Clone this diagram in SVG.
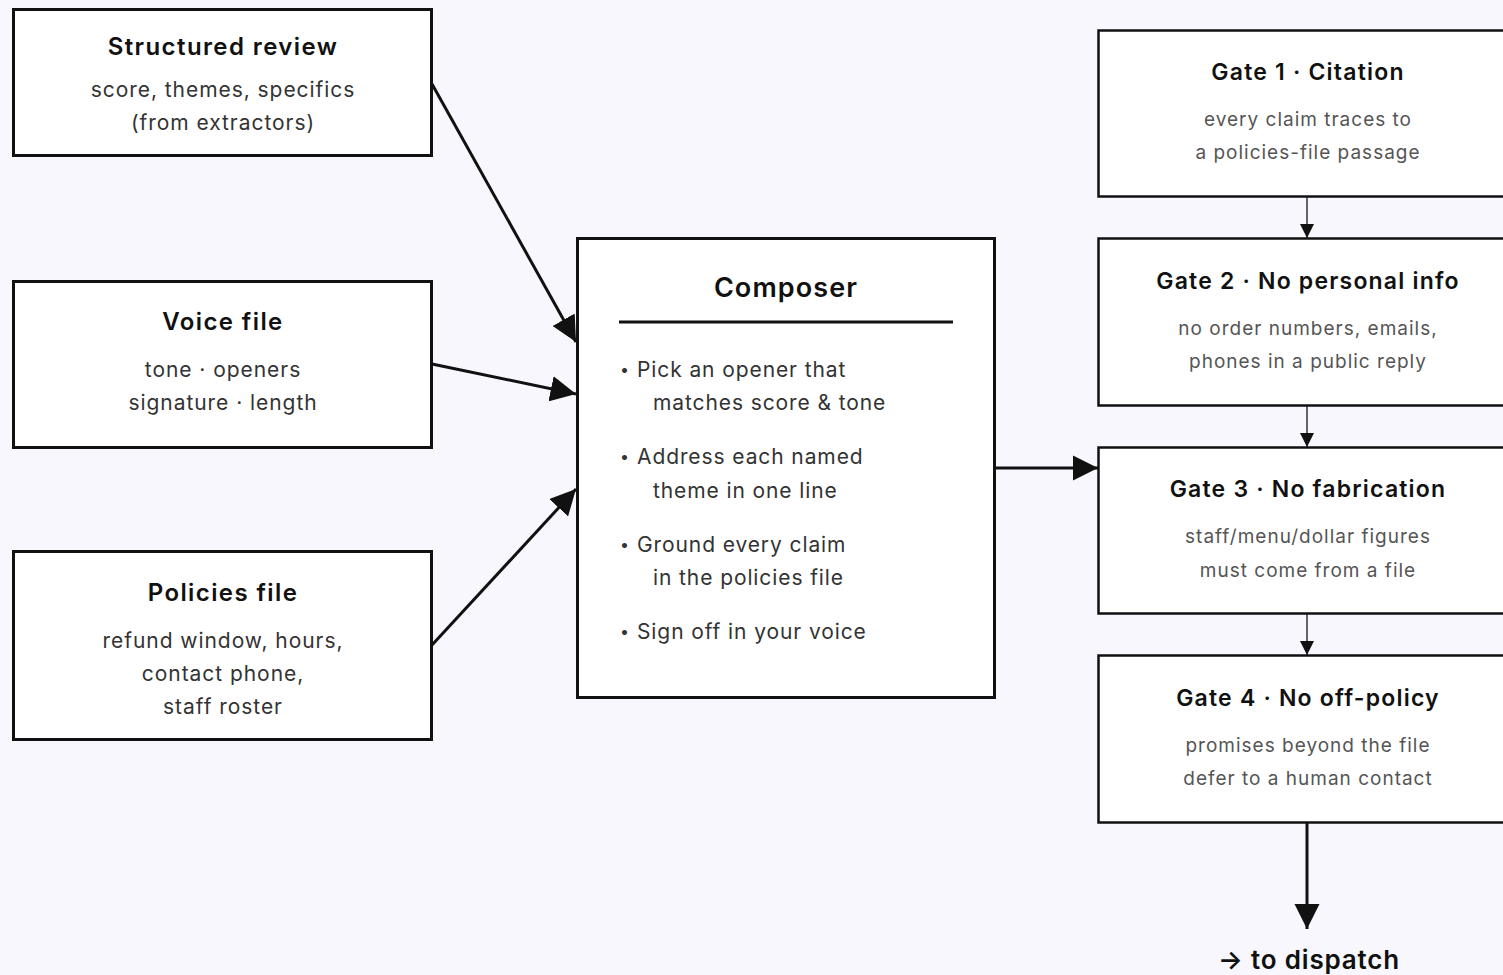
<svg xmlns="http://www.w3.org/2000/svg" width="1503" height="975" viewBox="0 0 1503 975">
  <defs>
    <style>
      .box { fill: #ffffff; stroke: #111111; stroke-width: 3; }
      .gate { fill: #ffffff; stroke: #111111; stroke-width: 2.5; }
      .title { font-family: Inter, "Liberation Sans", sans-serif; font-weight: 600; fill: #111111; text-anchor: middle; }
      .t24 { font-size: 24px; letter-spacing: 1.4px; }
      .t23 { font-size: 23px; letter-spacing: 1.2px; }
      .sub { font-family: Inter, "Liberation Sans", sans-serif; font-size: 21px; fill: #333333; text-anchor: middle; letter-spacing: 0.95px; }
      .gsub { font-family: Inter, "Liberation Sans", sans-serif; font-size: 19px; fill: #555555; text-anchor: middle; letter-spacing: 1px; }
      .item { font-family: Inter, "Liberation Sans", sans-serif; font-size: 21px; fill: #333333; letter-spacing: 0.9px; }
      .bullet { font-family: Inter, "Liberation Sans", sans-serif; font-size: 16px; fill: #333333; }
      .edge { stroke: #111111; stroke-width: 3; fill: none; }
      .thin { stroke: #333333; stroke-width: 1.5; fill: none; }
    </style>
    <marker id="headL" viewBox="0 0 10 10" refX="10" refY="5" markerWidth="8.5" markerHeight="8.5" orient="auto">
      <path d="M0,0 L10,5 L0,10 z" fill="#111111"/>
    </marker>
    <marker id="headS" viewBox="0 0 10 10" refX="10" refY="5" markerWidth="16" markerHeight="14" markerUnits="userSpaceOnUse" orient="auto">
      <path d="M0,0 L10,5 L0,10 z" fill="#111111"/>
    </marker>
  </defs>

  <rect width="1503" height="975" fill="#f8f7fd"/>

  <!-- connectors -->
  <g id="connectors">
    <line class="edge" x1="432" y1="84" x2="576" y2="342" marker-end="url(#headL)"/>
    <line class="edge" x1="432" y1="364" x2="576" y2="394" marker-end="url(#headL)"/>
    <line class="edge" x1="432" y1="645" x2="576" y2="489" marker-end="url(#headL)"/>
    <line class="edge" x1="995" y1="468" x2="1098" y2="468" marker-end="url(#headL)"/>
    <line class="thin" x1="1307" y1="197" x2="1307" y2="238" marker-end="url(#headS)"/>
    <line class="thin" x1="1307" y1="406" x2="1307" y2="447" marker-end="url(#headS)"/>
    <line class="thin" x1="1307" y1="614" x2="1307" y2="655" marker-end="url(#headS)"/>
    <line class="edge" x1="1307" y1="823" x2="1307" y2="929" marker-end="url(#headL)"/>
  </g>

  <!-- inputs -->
  <g id="structured-review">
    <rect class="box" x="13.5" y="9.5" width="418" height="146"/>
    <text class="title t24" x="223" y="55">Structured review</text>
    <text class="sub" x="223" y="97">score, themes, specifics</text>
    <text class="sub" x="223" y="130">(from extractors)</text>
  </g>

  <g id="voice-file">
    <rect class="box" x="13.5" y="281.5" width="418" height="166"/>
    <text class="title t24" x="223" y="330">Voice file</text>
    <text class="sub" x="223" y="377">tone · openers</text>
    <text class="sub" x="223" y="410">signature · length</text>
  </g>

  <g id="policies-file">
    <rect class="box" x="13.5" y="551.5" width="418" height="188"/>
    <text class="title t24" x="223" y="601">Policies file</text>
    <text class="sub" x="223" y="648">refund window, hours,</text>
    <text class="sub" x="223" y="681">contact phone,</text>
    <text class="sub" x="223" y="714">staff roster</text>
  </g>

  <!-- composer -->
  <g id="composer">
    <rect class="box" x="577.5" y="238.5" width="417" height="459"/>
    <text class="title" x="786" y="297" font-size="27" letter-spacing="1.1">Composer</text>
    <line x1="619" y1="322" x2="953" y2="322" stroke="#111111" stroke-width="3"/>
    <text class="bullet" x="620" y="375">•</text>
    <text class="item" x="637" y="377">Pick an opener that</text>
    <text class="item" x="653" y="410">matches score &amp; tone</text>
    <text class="bullet" x="620" y="462">•</text>
    <text class="item" x="637" y="464">Address each named</text>
    <text class="item" x="653" y="498">theme in one line</text>
    <text class="bullet" x="620" y="550">•</text>
    <text class="item" x="637" y="552">Ground every claim</text>
    <text class="item" x="653" y="585">in the policies file</text>
    <text class="bullet" x="620" y="637">•</text>
    <text class="item" x="637" y="639">Sign off in your voice</text>
  </g>

  <!-- gates -->
  <g id="gate-1">
    <rect class="gate" x="1098.5" y="30.5" width="420" height="166"/>
    <text class="title t23" x="1308" y="80">Gate 1 · Citation</text>
    <text class="gsub" x="1308" y="126">every claim traces to</text>
    <text class="gsub" x="1308" y="159">a policies-file passage</text>
  </g>

  <g id="gate-2">
    <rect class="gate" x="1098.5" y="238.5" width="420" height="167"/>
    <text class="title t23" x="1308" y="289">Gate 2 · No personal info</text>
    <text class="gsub" x="1308" y="335">no order numbers, emails,</text>
    <text class="gsub" x="1308" y="368">phones in a public reply</text>
  </g>

  <g id="gate-3">
    <rect class="gate" x="1098.5" y="447.5" width="420" height="166"/>
    <text class="title t23" x="1308" y="497">Gate 3 · No fabrication</text>
    <text class="gsub" x="1308" y="543">staff/menu/dollar figures</text>
    <text class="gsub" x="1308" y="577">must come from a file</text>
  </g>

  <g id="gate-4">
    <rect class="gate" x="1098.5" y="655.5" width="420" height="167"/>
    <text class="title t23" x="1308" y="706">Gate 4 · No off-policy</text>
    <text class="gsub" x="1308" y="752">promises beyond the file</text>
    <text class="gsub" x="1308" y="785">defer to a human contact</text>
  </g>

  <g id="dispatch">
    <text class="title" x="1309" y="969" font-size="26" letter-spacing="0.8">→ to dispatch</text>
  </g>
</svg>
